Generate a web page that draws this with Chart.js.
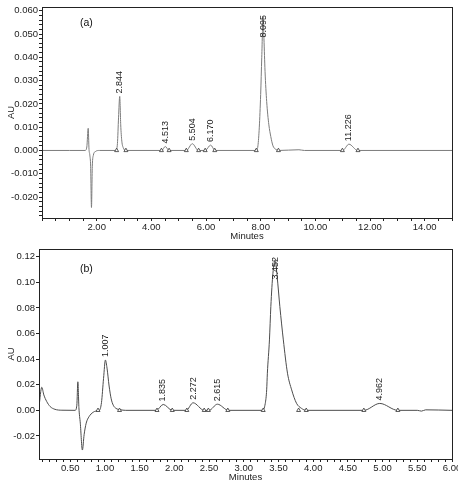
<!DOCTYPE html>
<html>
<head>
<meta charset="utf-8">
<script src="https://cdn.jsdelivr.net/npm/chart.js@4"></script>
<style>
  body { margin: 0; background: #fff; overflow: hidden; width: 458px; height: 480px; position: relative; }
  canvas { position: absolute; left: 0; }
  #chartA { top: 0; }
  #chartB { top: 240px; }
</style>
</head>
<body>
<canvas id="chartA" width="470" height="242"></canvas>
<canvas id="chartB" width="470" height="243"></canvas>
<script>
// (a) trace
const timesA = [0.00, 1.00, 1.58, 1.64, 1.69, 1.72, 1.75, 1.78, 1.81, 1.84, 1.88, 1.95, 2.10,
    2.70, 2.76, 2.80, 2.844, 2.88, 2.92, 2.98, 3.06, 4.38, 4.51, 4.65, 5.28, 5.50, 5.72, 5.97, 6.17, 6.33,
    7.84, 7.90, 7.95, 8.00, 8.04, 8.09, 8.12, 8.16, 8.22, 8.30, 8.37, 8.45, 8.55, 8.65, 9.40, 9.60,
    11.00, 11.23, 11.55, 15.00];
const auA = [0, 0, 0, 0.0015, 0.0095, 0.0005, -0.002, -0.007, -0.0245, -0.007, -0.002, -0.0005, 0,
    0, 0.003, 0.014, 0.0232, 0.011, 0.004, 0.001, 0, 0, 0.0017, 0, 0, 0.0029, 0, 0, 0.0023, 0,
    0, 0.002, 0.010, 0.024, 0.040, 0.0575, 0.048, 0.034, 0.021, 0.011, 0.006, 0.002, 0.0005, 0, 0.0003, 0,
    0, 0.0027, 0, 0];
const peaksA = [2.844, 4.513, 5.504, 6.170, 8.095, 11.226];
const peakHeightsA = [0.0232, 0.0017, 0.0029, 0.0023, 0.0575, 0.0027];
const markersA = [2.73, 3.07, 4.37, 4.65, 5.28, 5.73, 5.97, 6.32, 7.84, 8.65, 10.99, 11.56];
const xLabelsA = [2, 4, 6, 8, 10, 12, 14];
const yLabelsA = [-0.02, -0.01, 0, 0.01, 0.02, 0.03, 0.04, 0.05, 0.06];

// (b) trace
const timesB = [0.05, 0.09, 0.12, 0.16, 0.21, 0.28, 0.38, 0.57, 0.595, 0.61, 0.625, 0.645, 0.675, 0.70,
    0.73, 0.77, 0.83, 0.90, 0.92, 0.95, 0.98, 1.007, 1.03, 1.06, 1.09, 1.12, 1.16, 1.22, 1.30,
    1.74, 1.84, 1.97, 2.17, 2.27, 2.43, 2.50, 2.62, 2.78,
    3.27, 3.31, 3.33, 3.34, 3.37, 3.39, 3.42, 3.452, 3.48, 3.52, 3.57, 3.63, 3.69, 3.76, 3.83, 3.90,
    4.73, 4.96, 5.22, 5.50, 5.56, 5.62, 6.00];
const auB = [0.003, 0.018, 0.012, 0.007, 0.003, 0.0008, 0.0001, 0, 0.004, 0.0223, 0.002, -0.010, -0.031, -0.019,
    -0.010, -0.005, -0.0015, -0.0003, 0, 0.006, 0.025, 0.0393, 0.033, 0.019, 0.009, 0.004, 0.0015, 0.0005, 0,
    0, 0.0046, 0, 0, 0.0059, 0, 0, 0.0048, 0,
    0, 0.0055, 0.016, 0.029, 0.055, 0.081, 0.107, 0.1175, 0.105, 0.081, 0.055, 0.029, 0.016, 0.0055, 0.0016, 0,
    0, 0.0054, 0, 0, -0.0006, 0.0004, 0];
const peaksB = [1.007, 1.835, 2.272, 2.615, 3.452, 4.962];
const peakHeightsB = [0.0393, 0.0046, 0.0059, 0.0048, 0.1175, 0.0054];
const markersB = [0.90, 1.21, 1.75, 1.97, 2.18, 2.43, 2.49, 2.77, 3.28, 3.79, 3.90, 4.73, 5.22];
const xLabelsB = [0.5, 1, 1.5, 2, 2.5, 3, 3.5, 4, 4.5, 5, 5.5, 6];
const yLabelsB = [-0.02, 0, 0.02, 0.04, 0.06, 0.08, 0.10, 0.12];

const FONT = '"Liberation Sans", Arial, sans-serif';
const INK = '#222';

function near(list, v) {
    return list.some(l => Math.abs(l - v) < 1e-7);
}

function points(xs, ys) {
    return xs.map((t, i) => ({ x: t, y: ys[i] }));
}

// minor tick positions along an axis
function stepTicks(scale, step) {
    const ticks = [];
    for (let k = Math.ceil(scale.min / step - 1e-9); k * step <= scale.max + 1e-9; k++) {
        ticks.push({ value: Math.round(k * step * 1e6) / 1e6 });
    }
    scale.ticks = ticks;
}

const framePlugin = {
    id: 'frame',
    afterDraw(chart) {
        const a = chart.chartArea;
        const ctx = chart.ctx;
        ctx.save();
        ctx.strokeStyle = INK;
        ctx.lineWidth = 1;
        ctx.strokeRect(Math.round(a.left) + 0.5, Math.round(a.top) + 0.5,
            Math.round(a.right - a.left), Math.round(a.bottom - a.top));
        ctx.restore();
    }
};

const peakLabelPlugin = {
    id: 'peakLabels',
    afterDatasetsDraw(chart, args, opts) {
        const ctx = chart.ctx;
        const x = chart.scales.x;
        const y = chart.scales.y;
        const area = chart.chartArea;
        ctx.save();
        ctx.font = '9px ' + FONT;
        ctx.fillStyle = INK;
        ctx.textAlign = 'left';
        ctx.textBaseline = 'middle';
        opts.times.forEach((t, i) => {
            const label = t.toFixed(3);
            const w = ctx.measureText(label).width;
            const px = x.getPixelForValue(t);
            let py = y.getPixelForValue(opts.heights[i]) - 3;
            if (py - w < area.top + 8) py = area.top + 8 + w;
            ctx.save();
            ctx.translate(px, py);
            ctx.rotate(-Math.PI / 2);
            ctx.fillText(label, 0, 0);
            ctx.restore();
        });
        ctx.font = '10.5px ' + FONT;
        ctx.fillStyle = '#111';
        ctx.fillText(opts.tag, area.left + opts.tagDx, area.top + opts.tagDy);
        ctx.restore();
    }
};

function makeChart(id, cfg) {
    const tickFont = { family: FONT, size: 9.5 };
    return new Chart(document.getElementById(id), {
        type: 'line',
        data: {
            datasets: [{
                data: points(cfg.times, cfg.values),
                borderColor: cfg.lineColor,
                borderWidth: 1,
                pointRadius: 0,
                cubicInterpolationMode: 'monotone',
                order: 2
            }, {
                data: cfg.markers.map(t => ({ x: t, y: 0 })),
                showLine: false,
                pointStyle: 'triangle',
                pointRadius: 2.3,
                pointBorderWidth: 0.8,
                pointBorderColor: '#333',
                pointBackgroundColor: '#fff',
                order: 1
            }]
        },
        options: {
            responsive: false,
            animation: false,
            devicePixelRatio: 1,
            layout: { padding: { top: cfg.padTop, right: cfg.padRight, left: 0, bottom: 0 } },
            plugins: {
                legend: { display: false },
                tooltip: { enabled: false },
                peakLabels: { times: cfg.peaks, heights: cfg.peakHeights, tag: cfg.tag, tagDx: cfg.tagDx, tagDy: cfg.tagDy }
            },
            scales: {
                x: {
                    type: 'linear',
                    bounds: 'data',
                    min: cfg.xMin,
                    max: cfg.xMax,
                    afterBuildTicks: s => stepTicks(s, cfg.xStep),
                    afterFit: s => { s.height = cfg.xAxisHeight; },
                    ticks: {
                        autoSkip: false, maxRotation: 0, padding: 1, color: INK, font: tickFont,
                        callback: v => near(cfg.xLabels, v) ? v.toFixed(2) : ''
                    },
                    grid: { drawOnChartArea: false, tickLength: 3, tickColor: INK },
                    border: { display: false },
                    title: { display: true, text: 'Minutes', color: INK, font: { family: FONT, size: 9.5 }, padding: 0 }
                },
                y: {
                    type: 'linear',
                    bounds: 'data',
                    min: cfg.yMin,
                    max: cfg.yMax,
                    afterBuildTicks: s => stepTicks(s, cfg.yStep),
                    afterFit: s => { s.width = cfg.yAxisWidth; },
                    ticks: {
                        autoSkip: false, padding: 1, color: INK, font: tickFont,
                        callback: v => near(cfg.yLabels, v) ? v.toFixed(cfg.yDigits) : ''
                    },
                    grid: { drawOnChartArea: false, tickLength: 3, tickColor: INK },
                    border: { display: false },
                    title: { display: true, text: 'AU', color: INK, font: { family: FONT, size: 9.5 }, padding: { top: 6, bottom: 0 } }
                }
            }
        },
        plugins: [framePlugin, peakLabelPlugin]
    });
}

makeChart('chartA', {
    times: timesA, values: auA, markers: markersA, peaks: peaksA, peakHeights: peakHeightsA,
    xLabels: xLabelsA, yLabels: yLabelsA, yDigits: 3,
    xMin: 0, xMax: 15, xStep: 0.5, yMin: -0.029, yMax: 0.0616, yStep: 0.002,
    lineColor: '#7c7c7c', tag: '(a)', tagDx: 38, tagDy: 16,
    padTop: 7, padRight: 18, xAxisHeight: 24, yAxisWidth: 42
});

makeChart('chartB', {
    times: timesB, values: auB, markers: markersB, peaks: peaksB, peakHeights: peakHeightsB,
    xLabels: xLabelsB, yLabels: yLabelsB, yDigits: 2,
    xMin: 0.05, xMax: 6.0, xStep: 0.1, yMin: -0.038, yMax: 0.126, yStep: 0.02,
    lineColor: '#4c4c4c', tag: '(b)', tagDx: 41, tagDy: 20,
    padTop: 9, padRight: 18, xAxisHeight: 24, yAxisWidth: 39
});
</script>
</body>
</html>
